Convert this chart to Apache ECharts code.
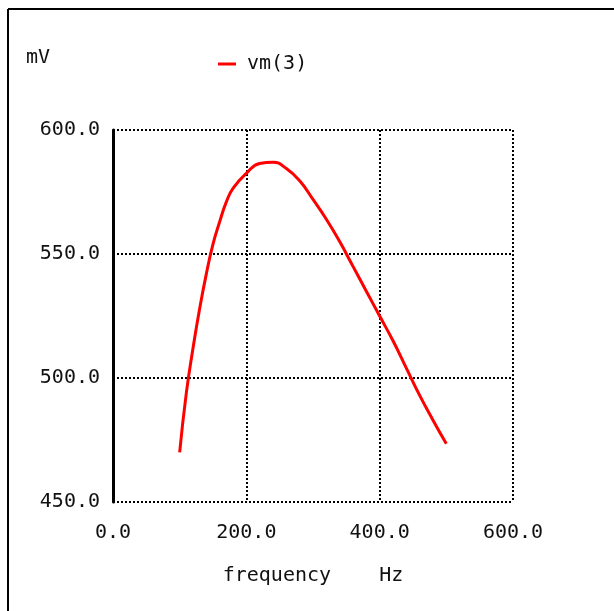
<!DOCTYPE html>
<html>
<head>
<meta charset="utf-8">
<script src="https://cdn.jsdelivr.net/npm/echarts@6/dist/echarts.min.js"></script>
<style>
  html, body { margin: 0; padding: 0; background: #fff; }
  #chart { width: 614px; height: 611px; }
</style>
</head>
<body>
<div id="chart"></div>
<script>
// frequency (Hz) and vm(3) (mV)
var freq = [100, 110, 120, 130, 140, 150, 160, 170, 180, 200, 220, 240, 260, 280, 300, 320, 340, 360, 380, 400, 420, 440, 460, 480, 500]
var vm3 = [470, 494, 512, 528, 542, 554, 563, 571, 576.5, 582.5, 586.5, 587, 584.5, 579.5, 572, 564, 555, 545, 535, 525, 515, 504, 493, 483, 473.5]
var xTicks = { min: 0, max: 600, step: 200 }
var yTicks = { min: 450, max: 600, step: 50 }

var font = 'DejaVu Sans Mono'
var chart = echarts.init(document.getElementById('chart'))

var points = freq.map(function (f, i) { return [f, vm3[i]] })

// dotted grid like the old spice plot
var dotted = { color: '#000', width: 2, type: [2, 2] }

var option = {
  backgroundColor: '#fff',
  animation: false,
  grid: { left: 113, top: 130, width: 400, height: 372 },
  legend: {
    left: 213,
    top: 49,
    icon: 'rect',
    itemWidth: 18,
    itemHeight: 3,
    itemGap: 10,
    textStyle: { fontFamily: font, fontSize: 20, color: '#111', padding: [0, 0, 0, 6] },
    data: ['vm(3)']
  },
  xAxis: {
    type: 'value',
    min: xTicks.min,
    max: xTicks.max,
    interval: xTicks.step,
    name: 'frequency    Hz',
    nameLocation: 'middle',
    nameGap: 64,
    nameTextStyle: { fontFamily: font, fontSize: 20, color: '#111' },
    axisLine: { show: false },
    axisTick: { show: false },
    axisLabel: {
      margin: 21,
      fontFamily: font,
      fontSize: 20,
      color: '#111',
      formatter: function (v) { return v.toFixed(1) }
    },
    splitLine: { show: true, lineStyle: dotted }
  },
  yAxis: {
    type: 'value',
    min: yTicks.min,
    max: yTicks.max,
    interval: yTicks.step,
    axisLine: { show: true, onZero: false, lineStyle: { color: '#000', width: 3 } },
    axisTick: { show: false },
    axisLabel: {
      margin: 13,
      fontFamily: font,
      fontSize: 20,
      color: '#111',
      formatter: function (v) { return v.toFixed(1) }
    },
    splitLine: { show: true, lineStyle: dotted }
  },
  graphic: [
    // frame of the plot window (top and left edges)
    { type: 'line', shape: { x1: 8, y1: 9, x2: 614, y2: 9 }, style: { stroke: '#000', lineWidth: 2 } },
    { type: 'line', shape: { x1: 8, y1: 9, x2: 8, y2: 611 }, style: { stroke: '#000', lineWidth: 2 } },
    { type: 'text', left: 26, top: 48, style: { text: 'mV', font: '20px "DejaVu Sans Mono"', fill: '#111' } }
  ],
  series: [
    {
      name: 'vm(3)',
      type: 'line',
      smooth: true,
      showSymbol: false,
      lineStyle: { color: '#ff0000', width: 3 },
      itemStyle: { color: '#ff0000' },
      data: points
    }
  ]
}

chart.setOption(option)
</script>
</body>
</html>
